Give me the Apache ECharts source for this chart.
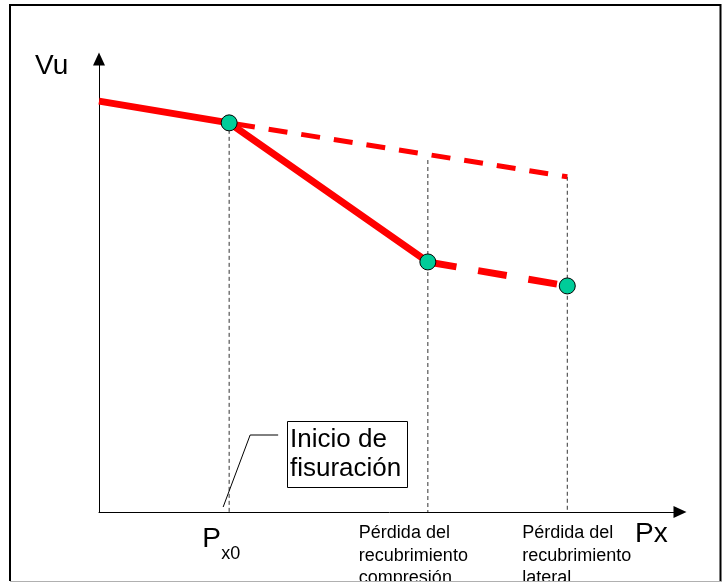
<!doctype html>
<html>
<head>
    <meta charset="utf-8">
    <title>Vu - Px</title>
    <style type="text/css">
        body, html {
            width: 100%;
            height: 100%;
            margin: 0;
            padding: 0;
            background: #fff;
        }
    </style>
    <script src="https://cdn.jsdelivr.net/npm/echarts@6/dist/echarts.min.js"></script>
</head>
<body>
<div id="container" style="width: 722px; height: 583px"></div>

<script type="text/javascript">
    // puntos clave sobre el eje Px (0 = origen)
    const pxPoints = [0, 22.4, 56.6, 80.6];
    // Vu en el tramo continuo (origen, Px0, pérdida recubrimiento compresión)
    const vuSolid = [90.7, 85.9, 55.2];
    // prolongación sin fisuración (Px0 -> lateral)
    const vuUpper = [85.9, 74.0];
    // tramo tras pérdida de recubrimiento (compresión -> lateral)
    const vuLower = [55.2, 49.9];
    // altura superior de las líneas de referencia verticales
    const guideTop = [85.9, 77.7, 74.0];
    // textos bajo el eje
    const tickLabels = ['P', 'Pérdida del\nrecubrimiento\ncompresión', 'Pérdida del\nrecubrimiento\nlateral'];
    const subLabel = 'x0';
    const yName = 'Vu';
    const xName = 'Px';
    const noteText = 'Inicio de\nfisuración';

    const FONT = '"Liberation Sans", Arial, sans-serif';
    const dom = document.getElementById('container');
    const myChart = echarts.init(dom, null, {renderer: 'canvas'});

    const solidData = vuSolid.map((v, i) => [pxPoints[i], v]);
    const upperData = [[pxPoints[1], vuUpper[0]], [pxPoints[3], vuUpper[1]]];
    const lowerData = [[pxPoints[2], vuLower[0]], [pxPoints[3], vuLower[1]]];
    const pointData = [[pxPoints[1], vuSolid[1]], [pxPoints[2], vuSolid[2]], [pxPoints[3], vuLower[1]]];

    const guideSeries = guideTop.map((top, i) => ({
        type: 'line',
        data: [[pxPoints[i + 1], top], [pxPoints[i + 1], 0]],
        showSymbol: false,
        silent: true,
        z: 1,
        lineStyle: {color: '#333', width: 1, type: [4, 3]}
    }));

    let option = {
        animation: false,
        backgroundColor: '#fff',
        grid: {left: 99, top: 59, right: 42, bottom: 71},
        xAxis: {
            type: 'value', min: 0, max: 100,
            splitLine: {show: false}, axisTick: {show: false}, axisLabel: {show: false},
            axisLine: {
                lineStyle: {color: '#000', width: 1},
                symbol: ['none', 'triangle'], symbolSize: [12, 13]
            }
        },
        yAxis: {
            type: 'value', min: 0, max: 100,
            splitLine: {show: false}, axisTick: {show: false}, axisLabel: {show: false},
            axisLine: {
                show: true,
                lineStyle: {color: '#000', width: 1},
                symbol: ['none', 'triangle'], symbolSize: [12, 13]
            }
        },
        series: guideSeries.concat([
            {
                type: 'line', data: solidData, showSymbol: false, z: 3,
                lineStyle: {color: '#ff0000', width: 7}
            },
            {
                type: 'line', data: upperData, showSymbol: false, z: 2,
                lineStyle: {color: '#ff0000', width: 5, type: [19, 14], dashOffset: 26}
            },
            {
                type: 'line', data: lowerData, showSymbol: false, z: 2,
                lineStyle: {color: '#ff0000', width: 7, type: [29, 22]}
            },
            {
                type: 'scatter', data: pointData, symbolSize: 16, z: 5,
                itemStyle: {color: '#00cc99', borderColor: '#000', borderWidth: 1, opacity: 1}
            }
        ])
    };
    myChart.setOption(option);

    const toPx = (x, y) => myChart.convertToPixel({gridIndex: 0}, [x, y]);
    const o = toPx(0, 0);
    const p1 = toPx(pxPoints[1], 0);
    const p2 = toPx(pxPoints[2], 0);
    const p3 = toPx(pxPoints[3], 0);
    const yTop = toPx(0, 100);
    const xEnd = toPx(100, 0);

    myChart.setOption({
        graphic: [
            {type: 'rect', shape: {x: 10, y: 5, width: 710.5, height: 578}, style: {fill: 'none', stroke: '#000', lineWidth: 2}, z: 100},
            {type: 'text', x: o[0] - 64, y: yTop[1] + 7, style: {text: yName, font: '28px ' + FONT, fill: '#000', verticalAlign: 'middle'}, z: 100},
            {type: 'text', x: xEnd[0] - 45, y: o[1] + 22, style: {text: xName, font: '28px ' + FONT, fill: '#000', verticalAlign: 'middle'}, z: 100},
            {type: 'text', x: p1[0] - 27, y: o[1] + 27, style: {text: tickLabels[0], font: '28px ' + FONT, fill: '#000', verticalAlign: 'middle'}, z: 100},
            {type: 'text', x: p1[0] - 8, y: o[1] + 42, style: {text: subLabel, font: '18px ' + FONT, fill: '#000', verticalAlign: 'middle'}, z: 100},
            {type: 'text', x: p2[0] - 69, y: o[1] + 10, style: {text: tickLabels[1], font: '18px ' + FONT, lineHeight: 22.5, fill: '#000', verticalAlign: 'top'}, z: 100},
            {type: 'text', x: p3[0] - 45, y: o[1] + 10, style: {text: tickLabels[2], font: '18px ' + FONT, lineHeight: 22.5, fill: '#000', verticalAlign: 'top'}, z: 100},
            {type: 'polyline', shape: {points: [[p1[0] - 6, o[1] - 5], [p1[0] + 21, o[1] - 77], [p1[0] + 49, o[1] - 77]]}, style: {stroke: '#000', lineWidth: 1, fill: 'none'}, z: 100},
            {type: 'rect', shape: {x: 287.5, y: 421.5, width: 120, height: 66}, style: {fill: '#fff', stroke: '#000', lineWidth: 1}, z: 100},
            {type: 'text', x: 290, y: 425, style: {text: noteText, font: '26px ' + FONT, lineHeight: 29, fill: '#000', verticalAlign: 'top'}, z: 101},
            // recorte inferior como en la figura original
            {type: 'rect', shape: {x: 0, y: 581, width: 722, height: 2}, style: {fill: '#fff'}, z: 110},
            {type: 'line', shape: {x1: 10, y1: 581.5, x2: 722, y2: 581.5}, style: {stroke: '#b0b0b0', lineWidth: 1}, z: 111}
        ]
    });

    window.addEventListener('resize', myChart.resize);
</script>
</body>
</html>
